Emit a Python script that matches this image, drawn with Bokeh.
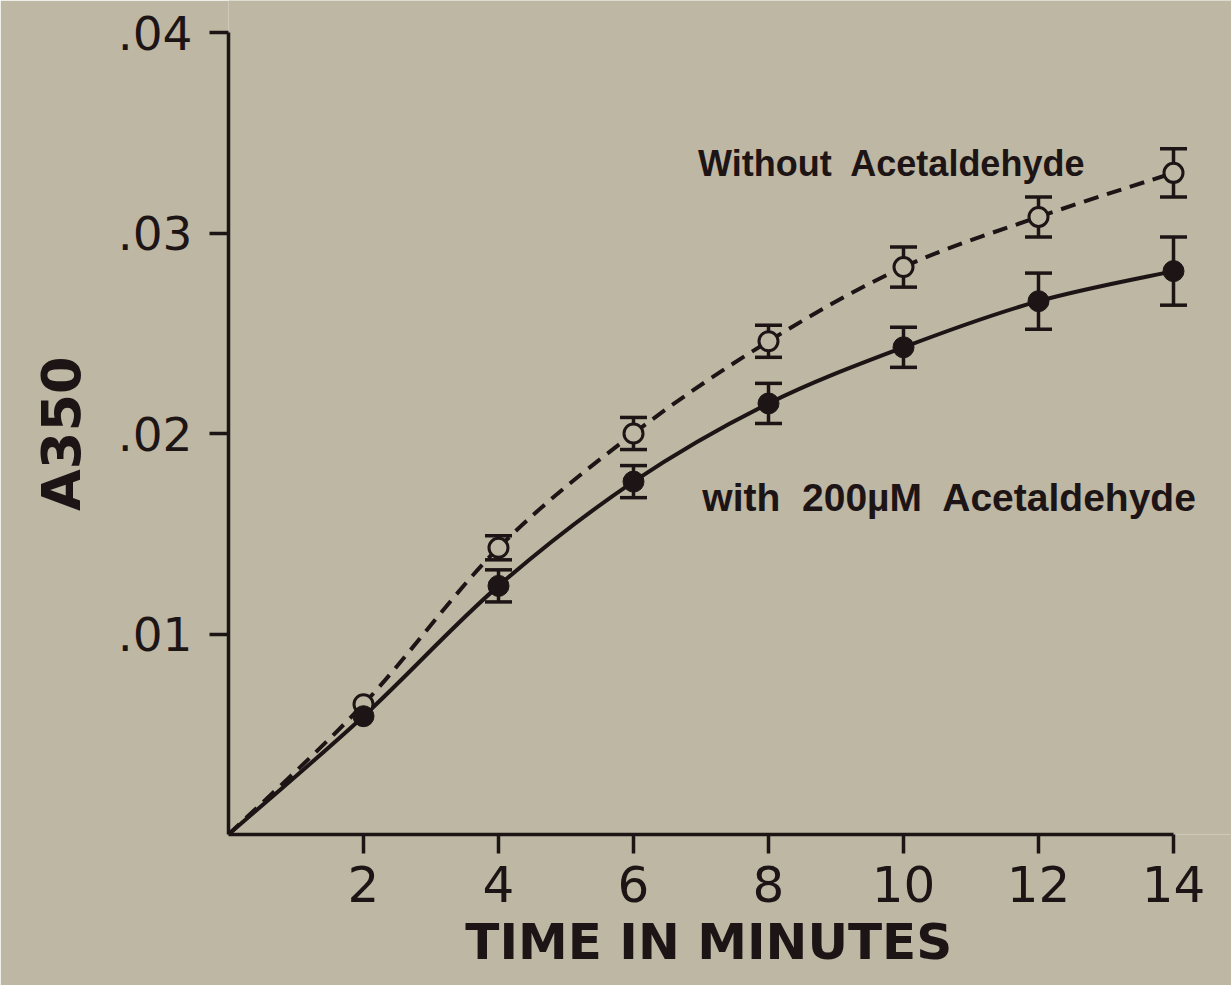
import numpy as np
from bokeh.plotting import figure
from bokeh.models import Range1d, FixedTicker, ColumnDataSource, Whisker, TeeHead, Label
from bokeh.embed import file_html
from bokeh.resources import INLINE

# ---------------- data ----------------
time = [2, 4, 6, 8, 10, 12, 14]
without_acet = [0.0065, 0.0143, 0.0200, 0.0246, 0.0283, 0.0308, 0.0330]
without_err = [0.0, 0.0006, 0.0008, 0.0008, 0.0010, 0.0010, 0.0012]
with_acet = [0.0059, 0.0124, 0.0176, 0.0215, 0.0243, 0.0266, 0.0281]
with_err = [0.0, 0.0008, 0.0008, 0.0010, 0.0010, 0.0014, 0.0017]
curve_start = (0.0, 0.0)          # both curves start at the origin

x_ticks = [2, 4, 6, 8, 10, 12, 14]
x_tick_labels = ["2", "4", "6", "8", "10", "12", "14"]
y_ticks = [0.01, 0.02, 0.03, 0.04]
y_tick_labels = [".01", ".02", ".03", ".04"]
SP = "\u00a0 "
label_without = "Without" + SP + "Acetaldehyde"
label_with = "with" + SP + "200\u00b5M" + SP + "Acetaldehyde"
x_title = "TIME IN MINUTES"
y_title = "A350"

# ---------------- style ----------------
BG = "#bdb7a3"
INK = "#1d1415"
W, H = 1231, 985
X0_PX, X14_PX = 228, 1173
Y0_PX, Y04_PX = 834, 32
RIGHT_PX, TOP_PX = W, 0
ppx = (X14_PX - X0_PX) / 14.0
ppy = (Y0_PX - Y04_PX) / 0.04
x_end = (RIGHT_PX - X0_PX) / ppx
y_end = (Y0_PX - TOP_PX) / ppy

p = figure(width=W, height=H, x_range=Range1d(0, x_end), y_range=Range1d(0, y_end),
           output_backend="svg", toolbar_location=None,
           min_border_left=X0_PX, min_border_right=W - RIGHT_PX,
           min_border_top=TOP_PX, min_border_bottom=H - Y0_PX,
           background_fill_color=BG, border_fill_color=BG, outline_line_color=None)
p.grid.visible = False


def catmull_bezier(xs, ys):
    xs = np.asarray(xs, float)
    ys = np.asarray(ys, float)
    px = np.concatenate([[xs[0]], xs, [xs[-1]]])
    py = np.concatenate([[ys[0]], ys, [ys[-1]]])
    n = len(xs) - 1
    out = dict(x0=[], y0=[], x1=[], y1=[], cx0=[], cy0=[], cx1=[], cy1=[])
    for i in range(n):
        a, b, c, d = i, i + 1, i + 2, i + 3
        out["x0"].append(px[b]); out["y0"].append(py[b])
        out["x1"].append(px[c]); out["y1"].append(py[c])
        out["cx0"].append(px[b] + (px[c] - px[a]) / 6.0)
        out["cy0"].append(py[b] + (py[c] - py[a]) / 6.0)
        out["cx1"].append(px[c] - (px[d] - px[b]) / 6.0)
        out["cy1"].append(py[c] - (py[d] - py[b]) / 6.0)
    return out


cx = [curve_start[0]] + time
p.bezier(source=ColumnDataSource(catmull_bezier(cx, [curve_start[1]] + without_acet)),
         x0="x0", y0="y0", x1="x1", y1="y1", cx0="cx0", cy0="cy0", cx1="cx1", cy1="cy1",
         line_color=INK, line_width=4, line_dash="15 9")
p.bezier(source=ColumnDataSource(catmull_bezier(cx, [curve_start[1]] + with_acet)),
         x0="x0", y0="y0", x1="x1", y1="y1", cx0="cx0", cy0="cy0", cx1="cx1", cy1="cy1",
         line_color=INK, line_width=4)


def add_whiskers(ys, errs):
    xs = [t for t, e in zip(time, errs) if e > 0]
    up = [y + e for y, e in zip(ys, errs) if e > 0]
    lo = [y - e for y, e in zip(ys, errs) if e > 0]
    src = ColumnDataSource(dict(x=xs, upper=up, lower=lo))
    w = Whisker(source=src, base="x", upper="upper", lower="lower",
                line_color=INK, line_width=3.5,
                upper_head=TeeHead(size=27, line_color=INK, line_width=3.5),
                lower_head=TeeHead(size=27, line_color=INK, line_width=3.5))
    p.add_layout(w)


add_whiskers(without_acet, without_err)
add_whiskers(with_acet, with_err)

p.scatter(time, without_acet, marker="circle", size=19, fill_color=BG,
          line_color=INK, line_width=3)
p.scatter(time, with_acet, marker="circle", size=21, fill_color=INK,
          line_color=INK, line_width=1)

p.add_layout(Label(x=12.70, y=0.03347, text=label_without, text_align="right",
                   text_baseline="alphabetic", text_font="Liberation Sans",
                   text_font_style="bold", text_font_size="36px", text_color=INK))
p.add_layout(Label(x=7.02, y=0.01681, text=label_with, text_align="left",
                   text_baseline="alphabetic", text_font="Liberation Sans",
                   text_font_style="bold", text_font_size="39px", text_color=INK))

# ---------------- axes ----------------
p.xaxis.bounds = (0, 14)
p.yaxis.bounds = (0, 0.04)
p.xaxis.ticker = FixedTicker(ticks=x_ticks)
p.yaxis.ticker = FixedTicker(ticks=y_ticks)
p.xaxis.major_label_overrides = {t: l for t, l in zip(x_ticks, x_tick_labels)}
p.yaxis.major_label_overrides = {t: l for t, l in zip(y_ticks, y_tick_labels)}
# axis titles are centred on the (wider) frame; trailing fixed spaces re-centre
# them on the drawn axis lines, as in the original figure
p.xaxis.axis_label = x_title + "\u2002\u00a0"
p.yaxis.axis_label = y_title + "\u2002\u200a"
for ax in (p.xaxis[0], p.yaxis[0]):
    ax.axis_line_color = INK
    ax.axis_line_width = 3.5
    ax.major_tick_line_color = INK
    ax.major_tick_line_width = 3.5
    ax.major_tick_out = 19
    ax.major_tick_in = 0
    ax.minor_tick_line_color = None
    ax.major_label_text_color = INK
    ax.major_label_text_font = "DejaVu Sans"
    ax.axis_label_text_color = INK
    ax.axis_label_text_font = "DejaVu Sans"
    ax.axis_label_text_font_style = "bold"
p.xaxis.major_label_text_font_size = "50px"
p.yaxis.major_label_text_font_size = "47px"
p.xaxis.major_label_standoff = 12
p.yaxis.major_label_standoff = 17
p.xaxis.axis_label_text_font_size = "50px"
p.yaxis.axis_label_text_font_size = "54px"
p.xaxis.axis_label_standoff = 8
p.yaxis.axis_label_standoff = 22

open("out.html", "w").write(file_html(p, INLINE))
